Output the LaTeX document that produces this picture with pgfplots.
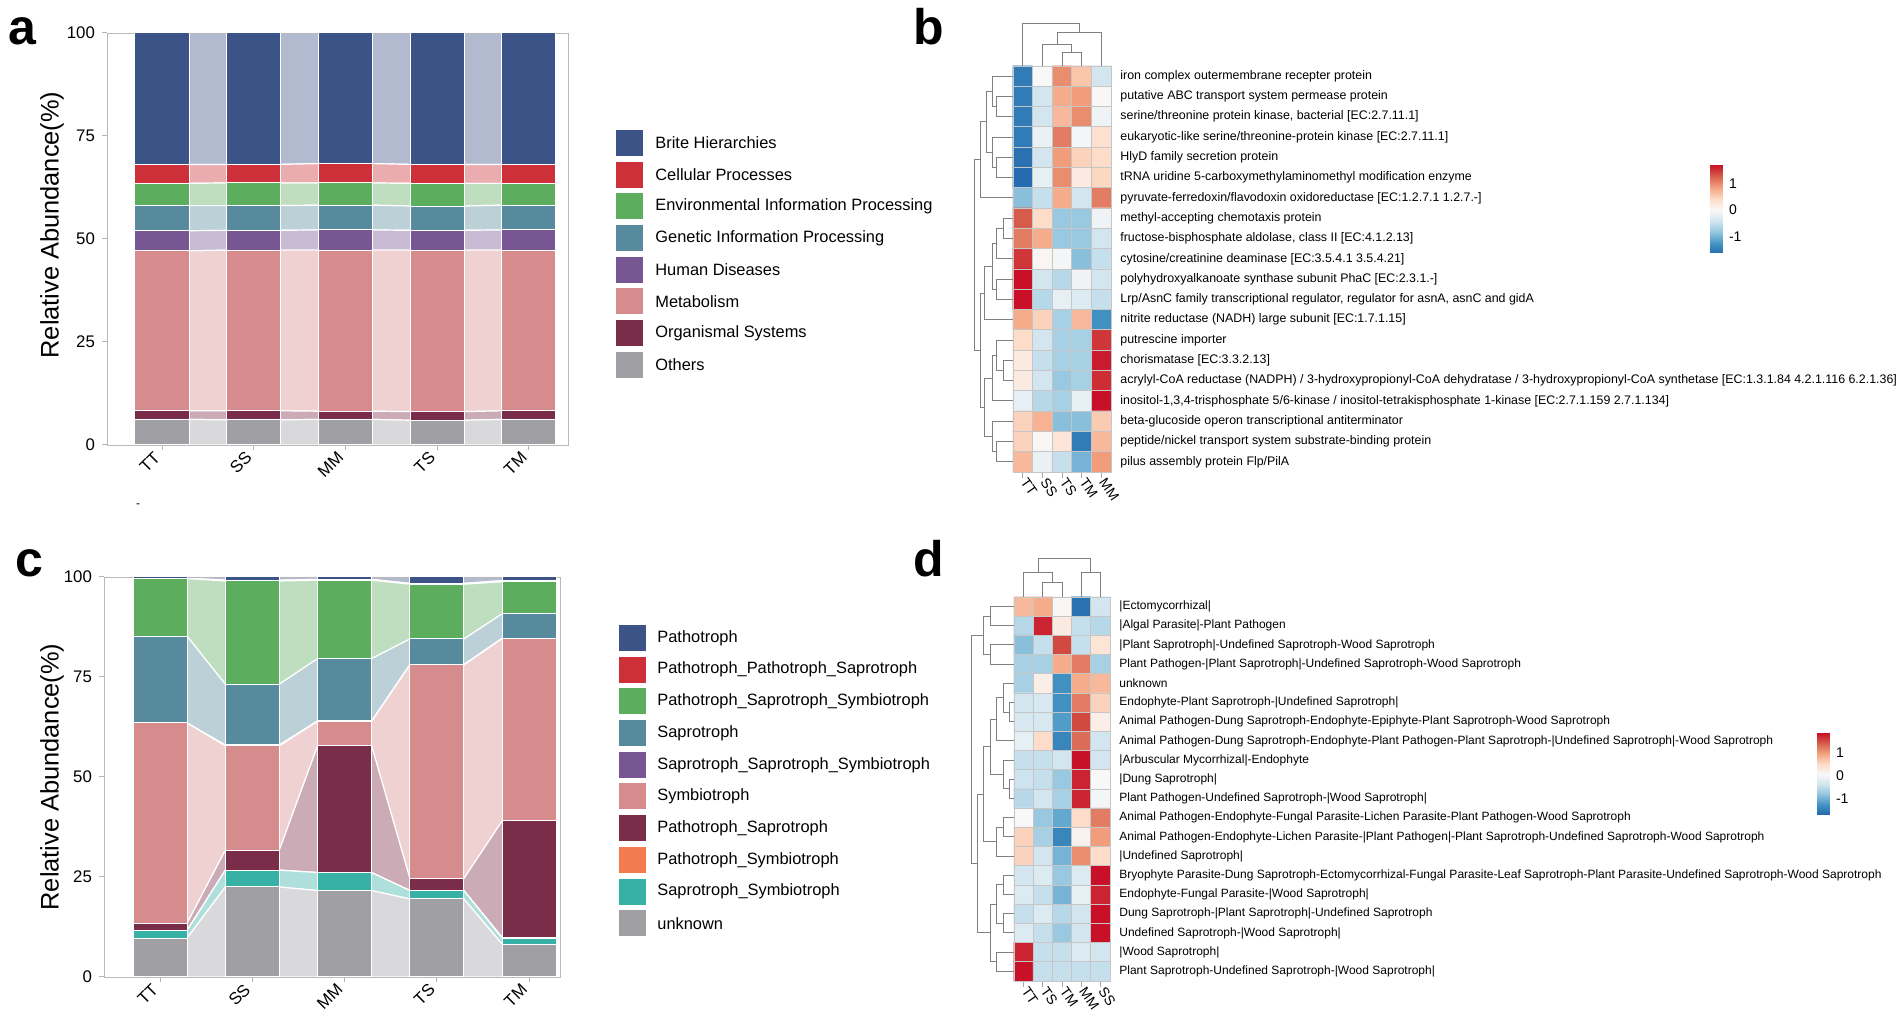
\documentclass[border=0pt]{standalone}
\usepackage{fontspec}
\setmainfont{Liberation Sans}
\usepackage{pgfplots}
\usepackage{pgfplotstable}
\pgfplotsset{compat=1.18}

\definecolor{cBri}{RGB}{59,83,135}
\definecolor{cCel}{RGB}{206,48,58}
\definecolor{cEnv}{RGB}{93,173,95}
\definecolor{cGen}{RGB}{87,138,156}
\definecolor{cHum}{RGB}{120,86,147}
\definecolor{cMet}{RGB}{214,140,140}
\definecolor{cOrg}{RGB}{122,45,72}
\definecolor{cOth}{RGB}{160,160,164}
\definecolor{cOra}{RGB}{244,123,77}
\definecolor{cTur}{RGB}{55,176,165}

\pgfplotsset{colormap={rdbu}{rgb255=(33,102,172) rgb255=(67,147,195) rgb255=(146,197,222) rgb255=(209,229,240) rgb255=(248,248,248) rgb255=(253,219,199) rgb255=(244,165,130) rgb255=(214,96,77) rgb255=(200,16,40)}}

\newcommand\tickfont{\fontsize{8.4}{10}\selectfont}
\newcommand\legfont{\fontsize{8.2}{10}\selectfont}
\newcommand\rowfont{\fontsize{6}{7}\selectfont}
\newcommand\rowfontb{\fontsize{6.2}{7}\selectfont}
\newcommand\colfont{\fontsize{7}{8}\selectfont}
\newcommand\labfont{\fontsize{12.7}{14}\selectfont}
\newcommand\panelfont{\fontsize{25}{28}\selectfont\bfseries}

\tikzset{dendro/.style={draw=black!50, line width=0.5pt}}
% left dendrogram: merge height, child1 height, child1 pos, child2 height, child2 pos
\newcommand{\dL}[5]{\draw[dendro] (axis cs:#2,#3) -- (axis cs:#1,#3) -- (axis cs:#1,#5) -- (axis cs:#4,#5);}
% top dendrogram
\newcommand{\dT}[5]{\draw[dendro] (axis cs:#3,#2) -- (axis cs:#3,#1) -- (axis cs:#5,#1) -- (axis cs:#5,#4);}

\pgfplotsset{
  areaax/.style={scale only axis, anchor=north west, hide axis, stack plots=y,
    ymin=0, ymax=100, enlargelimits=false,
    every axis plot/.append style={draw=white, line width=0.6pt}},
  barax/.style={scale only axis, anchor=north west, ybar stacked,
    ymin=0, ymax=100, enlargelimits=false,
    xtick={0,...,4}, ytick={0,25,50,75,100},
    tick align=outside, tick pos=left, major tick length=2.5pt,
    axis line style={gray!55}, tick style={gray!60, line width=0.5pt},
    x tick label style={rotate=45, anchor=east, font=\tickfont},
    y tick label style={font=\tickfont},
    /pgf/number format/assume math mode=true,
    every axis plot/.append style={draw=white, line width=0.5pt}},
  heatax/.style={scale only axis, anchor=north west, enlargelimits=false, clip=false,
    xmin=-0.5, xmax=4.5, ymin=-0.5, ymax=19.5, y dir=reverse,
    axis line style={gray!45, line width=0.4pt},
    xtick={0,...,4}, xtick pos=left, tick align=outside, major tick length=3pt,
    x tick style={gray!70, line width=0.4pt},
    x tick label style={rotate=-55, anchor=west, font=\colfont, inner sep=1pt},
    ytick={0,...,19}, yticklabel pos=right, y tick style={draw=none},
    y tick label style={anchor=west, font=\rowfont, inner sep=1.5pt},
    minor xtick={-0.5,0.5,...,4.5}, minor ytick={-0.5,0.5,...,19.5},
    grid=minor, minor grid style={gray!45, line width=0.4pt}, minor tick length=0pt,
    axis on top, colormap name=rdbu, point meta min=-1.7, point meta max=1.7},
  cbax/.style={scale only axis, anchor=north west, enlargelimits=false,
    xmin=0, xmax=1, axis line style={draw=none}, xtick=\empty,
    ytick={-1,0,1}, yticklabels={-1,0,1}, yticklabel pos=right,
    tick align=inside, major tick length=2pt, y tick style={white, line width=0.6pt},
    y tick label style={font=\colfont}, colormap name=rdbu}
}

% panel a: KEGG level 1, bottom to top
\pgfplotstableread{
x Oth Org Met Hum Gen Env Cel Bri
0 6.2 2.1 38.8 4.9 6.1 5.4 4.6 31.9
1 6.1 2.2 39.0 4.8 6.0 5.5 4.5 31.9
2 6.2 2.0 39.1 4.9 6.0 5.4 4.7 31.7
3 6.0 2.1 39.2 4.8 5.9 5.5 4.6 31.9
4 6.2 2.1 39.0 4.9 6.0 5.3 4.6 31.9
}\abar
\pgfplotstableread{
x Oth Org Met Hum Gen Env Cel Bri
-0.295 6.2 2.1 38.8 4.9 6.1 5.4 4.6 31.9
0.295 6.2 2.1 38.8 4.9 6.1 5.4 4.6 31.9
0.705 6.1 2.2 39.0 4.8 6.0 5.5 4.5 31.9
1.295 6.1 2.2 39.0 4.8 6.0 5.5 4.5 31.9
1.705 6.2 2.0 39.1 4.9 6.0 5.4 4.7 31.7
2.295 6.2 2.0 39.1 4.9 6.0 5.4 4.7 31.7
2.705 6.0 2.1 39.2 4.8 5.9 5.5 4.6 31.9
3.295 6.0 2.1 39.2 4.8 5.9 5.5 4.6 31.9
3.705 6.2 2.1 39.0 4.9 6.0 5.3 4.6 31.9
4.295 6.2 2.1 39.0 4.9 6.0 5.3 4.6 31.9
}\aedge

% panel c: FUNGuild trophic modes, bottom to top
\pgfplotstableread{
x Unk SaSy PaSy PaSa Sym SSS Sap PSS PPS Pat
0 9.7 1.9 0.0 1.8 50.1 0.0 21.7 14.4 0.1 0.3
1 22.5 4.2 0.0 5.0 26.1 0.2 15.2 25.8 0.2 0.8
2 21.6 4.5 0.0 31.7 6.1 0.1 15.6 19.6 0.2 0.6
3 19.5 2.1 0.0 3.0 53.4 0.1 6.4 13.7 0.2 1.6
4 8.2 1.5 0.2 29.1 45.6 0.1 6.1 8.0 0.3 0.9
}\cbar
\pgfplotstableread{
x Unk SaSy PaSy PaSa Sym SSS Sap PSS PPS Pat
-0.2925 9.7 1.9 0.0 1.8 50.1 0.0 21.7 14.4 0.1 0.3
0.2925 9.7 1.9 0.0 1.8 50.1 0.0 21.7 14.4 0.1 0.3
0.7075 22.5 4.2 0.0 5.0 26.1 0.2 15.2 25.8 0.2 0.8
1.2925 22.5 4.2 0.0 5.0 26.1 0.2 15.2 25.8 0.2 0.8
1.7075 21.6 4.5 0.0 31.7 6.1 0.1 15.6 19.6 0.2 0.6
2.2925 21.6 4.5 0.0 31.7 6.1 0.1 15.6 19.6 0.2 0.6
2.7075 19.5 2.1 0.0 3.0 53.4 0.1 6.4 13.7 0.2 1.6
3.2925 19.5 2.1 0.0 3.0 53.4 0.1 6.4 13.7 0.2 1.6
3.7075 8.2 1.5 0.2 29.1 45.6 0.1 6.1 8.0 0.3 0.9
4.2925 8.2 1.5 0.2 29.1 45.6 0.1 6.1 8.0 0.3 0.9
}\cedge

\begin{document}
\begin{tikzpicture}
\begin{scope}[x=0.5pt, y=-0.5pt, yshift=510.5pt]
  \useasboundingbox (0,0) rectangle (1902,1021);
  \fill[white] (0,0) rectangle (1902,1021);
\end{scope}

% ---------------- panel a ----------------
\begin{axis}[areaax, at={(53.5pt,494pt)}, width=230.5pt, height=206pt, xmin=-0.6, xmax=4.427]
  \addplot[fill=cOth!40] table[x=x,y=Oth]{\aedge} \closedcycle;
  \addplot[fill=cOrg!40] table[x=x,y=Org]{\aedge} \closedcycle;
  \addplot[fill=cMet!40] table[x=x,y=Met]{\aedge} \closedcycle;
  \addplot[fill=cHum!40] table[x=x,y=Hum]{\aedge} \closedcycle;
  \addplot[fill=cGen!40] table[x=x,y=Gen]{\aedge} \closedcycle;
  \addplot[fill=cEnv!40] table[x=x,y=Env]{\aedge} \closedcycle;
  \addplot[fill=cCel!40] table[x=x,y=Cel]{\aedge} \closedcycle;
  \addplot[fill=cBri!40] table[x=x,y=Bri]{\aedge} \closedcycle;
\end{axis}
\begin{axis}[barax, at={(53.5pt,494pt)}, width=230.5pt, height=206pt, xmin=-0.6, xmax=4.427,
    bar width=0.59, xticklabels={TT,SS,MM,TS,TM}]
  \addplot[fill=cOth] table[x=x,y=Oth]{\abar};
  \addplot[fill=cOrg] table[x=x,y=Org]{\abar};
  \addplot[fill=cMet] table[x=x,y=Met]{\abar};
  \addplot[fill=cHum] table[x=x,y=Hum]{\abar};
  \addplot[fill=cGen] table[x=x,y=Gen]{\abar};
  \addplot[fill=cEnv] table[x=x,y=Env]{\abar};
  \addplot[fill=cCel] table[x=x,y=Cel]{\abar};
  \addplot[fill=cBri] table[x=x,y=Bri]{\abar};
\end{axis}

% ---------------- panel c ----------------
\begin{axis}[areaax, at={(52pt,222pt)}, width=228pt, height=200pt, xmin=-0.607, xmax=4.334]
  \addplot[fill=cOth!40] table[x=x,y=Unk]{\cedge} \closedcycle;
  \addplot[fill=cTur!40] table[x=x,y=SaSy]{\cedge} \closedcycle;
  \addplot[fill=cOra!40] table[x=x,y=PaSy]{\cedge} \closedcycle;
  \addplot[fill=cOrg!40] table[x=x,y=PaSa]{\cedge} \closedcycle;
  \addplot[fill=cMet!40] table[x=x,y=Sym]{\cedge} \closedcycle;
  \addplot[fill=cHum!40] table[x=x,y=SSS]{\cedge} \closedcycle;
  \addplot[fill=cGen!40] table[x=x,y=Sap]{\cedge} \closedcycle;
  \addplot[fill=cEnv!40] table[x=x,y=PSS]{\cedge} \closedcycle;
  \addplot[fill=cCel!40] table[x=x,y=PPS]{\cedge} \closedcycle;
  \addplot[fill=cBri!40] table[x=x,y=Pat]{\cedge} \closedcycle;
\end{axis}
\begin{axis}[barax, at={(52pt,222pt)}, width=228pt, height=200pt, xmin=-0.607, xmax=4.334,
    bar width=0.585, xticklabels={TT,SS,MM,TS,TM}]
  \addplot[fill=cOth] table[x=x,y=Unk]{\cbar};
  \addplot[fill=cTur] table[x=x,y=SaSy]{\cbar};
  \addplot[fill=cOra] table[x=x,y=PaSy]{\cbar};
  \addplot[fill=cOrg] table[x=x,y=PaSa]{\cbar};
  \addplot[fill=cMet] table[x=x,y=Sym]{\cbar};
  \addplot[fill=cHum] table[x=x,y=SSS]{\cbar};
  \addplot[fill=cGen] table[x=x,y=Sap]{\cbar};
  \addplot[fill=cEnv] table[x=x,y=PSS]{\cbar};
  \addplot[fill=cCel] table[x=x,y=PPS]{\cbar};
  \addplot[fill=cBri] table[x=x,y=Pat]{\cbar};
\end{axis}

% ---------------- panel b: heatmap ----------------
\begin{axis}[heatax, at={(506.5pt,477.5pt)}, width=49pt, height=203pt,
    y tick label style={font=\rowfontb},
    xticklabels={TT,SS,TS,TM,MM},
    yticklabels={
      {iron complex outermembrane recepter protein},
      {putative ABC transport system permease protein},
      {serine/threonine protein kinase, bacterial [EC:2.7.11.1]},
      {eukaryotic-like serine/threonine-protein kinase [EC:2.7.11.1]},
      {HlyD family secretion protein},
      {tRNA uridine 5-carboxymethylaminomethyl modification enzyme},
      {pyruvate-ferredoxin/flavodoxin oxidoreductase [EC:1.2.7.1 1.2.7.-]},
      {methyl-accepting chemotaxis protein},
      {fructose-bisphosphate aldolase, class II [EC:4.1.2.13]},
      {cytosine/creatinine deaminase [EC:3.5.4.1 3.5.4.21]},
      {polyhydroxyalkanoate synthase subunit PhaC [EC:2.3.1.-]},
      {Lrp/AsnC family transcriptional regulator, regulator for asnA, asnC and gidA},
      {nitrite reductase (NADH) large subunit [EC:1.7.1.15]},
      {putrescine importer},
      {chorismatase [EC:3.3.2.13]},
      {acrylyl-CoA reductase (NADPH) / 3-hydroxypropionyl-CoA dehydratase / 3-hydroxypropionyl-CoA synthetase [EC:1.3.1.84 4.2.1.116 6.2.1.36]},
      {inositol-1,3,4-trisphosphate 5/6-kinase / inositol-tetrakisphosphate 1-kinase [EC:2.7.1.159 2.7.1.134]},
      {beta-glucoside operon transcriptional antiterminator},
      {peptide/nickel transport system substrate-binding protein},
      {pilus assembly protein Flp/PilA}}]
  \addplot[matrix plot*, mesh/cols=5, point meta=explicit] coordinates {
    (0,0)[-1.5] (1,0)[0.0] (2,0)[1.0] (3,0)[0.6] (4,0)[-0.4]
    (0,1)[-1.5] (1,1)[-0.4] (2,1)[0.8] (3,1)[0.9] (4,1)[0.02]
    (0,2)[-1.5] (1,2)[-0.4] (2,2)[0.7] (3,2)[1.0] (4,2)[-0.1]
    (0,3)[-1.5] (1,3)[-0.15] (2,3)[1.1] (3,3)[-0.05] (4,3)[0.35]
    (0,4)[-1.6] (1,4)[-0.4] (2,4)[0.9] (3,4)[0.5] (4,4)[0.4]
    (0,5)[-1.65] (1,5)[-0.2] (2,5)[1.0] (3,5)[0.2] (4,5)[0.45]
    (0,6)[-0.9] (1,6)[-0.5] (2,6)[0.8] (3,6)[-0.4] (4,6)[1.1]
    (0,7)[1.3] (1,7)[0.4] (2,7)[-0.8] (3,7)[-0.8] (4,7)[-0.1]
    (0,8)[1.1] (1,8)[0.8] (2,8)[-0.8] (3,8)[-0.8] (4,8)[-0.4]
    (0,9)[1.5] (1,9)[0.05] (2,9)[-0.05] (3,9)[-0.9] (4,9)[-0.5]
    (0,10)[1.7] (1,10)[-0.4] (2,10)[-0.6] (3,10)[-0.1] (4,10)[-0.4]
    (0,11)[1.7] (1,11)[-0.6] (2,11)[-0.2] (3,11)[-0.3] (4,11)[-0.5]
    (0,12)[0.8] (1,12)[0.5] (2,12)[-0.7] (3,12)[0.7] (4,12)[-1.3]
    (0,13)[0.4] (1,13)[-0.4] (2,13)[-0.7] (3,13)[-0.7] (4,13)[1.5]
    (0,14)[0.2] (1,14)[-0.5] (2,14)[-0.7] (3,14)[-0.7] (4,14)[1.65]
    (0,15)[0.2] (1,15)[-0.4] (2,15)[-0.8] (3,15)[-0.7] (4,15)[1.55]
    (0,16)[-0.2] (1,16)[-0.6] (2,16)[-0.7] (3,16)[-0.2] (4,16)[1.7]
    (0,17)[0.5] (1,17)[0.75] (2,17)[-0.9] (3,17)[-0.9] (4,17)[0.55]
    (0,18)[0.5] (1,18)[0.05] (2,18)[0.3] (3,18)[-1.5] (4,18)[0.7]
    (0,19)[0.7] (1,19)[-0.15] (2,19)[-0.5] (3,19)[-1.0] (4,19)[0.9]
  };
  % row dendrogram
  \dL{-1.32}{-0.5}{1}{-0.5}{2}
  \dL{-1.57}{-0.5}{0}{-1.32}{1.5}
  \dL{-1.32}{-0.5}{4}{-0.5}{5}
  \dL{-1.57}{-0.5}{3}{-1.32}{4.5}
  \dL{-1.83}{-1.57}{0.75}{-1.57}{3.75}
  \dL{-2.18}{-1.83}{2.25}{-0.5}{6}
  \dL{-1.01}{-0.5}{7}{-0.5}{8}
  \dL{-1.32}{-1.01}{7.5}{-0.5}{9}
  \dL{-1.32}{-0.5}{10}{-0.5}{11}
  \dL{-1.57}{-1.32}{8.25}{-1.32}{10.5}
  \dL{-1.93}{-1.57}{9.375}{-0.5}{12}
  \dL{-1.01}{-0.5}{14}{-0.5}{15}
  \dL{-1.32}{-0.5}{13}{-1.01}{14.5}
  \dL{-1.57}{-1.32}{13.75}{-0.5}{16}
  \dL{-1.32}{-0.5}{18}{-0.5}{19}
  \dL{-1.57}{-0.5}{17}{-1.32}{18.5}
  \dL{-1.93}{-1.57}{14.875}{-1.57}{17.75}
  \dL{-2.18}{-1.93}{10.6875}{-1.93}{16.3125}
  \dL{-2.49}{-2.18}{4.125}{-2.18}{13.5}
  % column dendrogram
  \dT{-1.14}{-0.5}{2}{-0.5}{3}
  \dT{-1.58}{-0.5}{1}{-1.14}{2.5}
  \dT{-2.13}{-1.58}{1.75}{-0.5}{4}
  \dT{-2.57}{-0.5}{0}{-2.13}{2.875}
\end{axis}
\begin{axis}[cbax, at={(855pt,428pt)}, width=6pt, height=44pt, ymin=-1.62, ymax=1.7,
    point meta min=-1.7, point meta max=1.7]
  \addplot[surf, shader=interp, mesh/cols=2, point meta=y] coordinates {
    (0,-1.62) (1,-1.62)
    (0,-0.8) (1,-0.8)
    (0,0) (1,0)
    (0,0.8) (1,0.8)
    (0,1.7) (1,1.7)
  };
\end{axis}

% ---------------- panel d: heatmap ----------------
\begin{axis}[heatax, at={(507pt,212pt)}, width=48pt, height=192pt,
    xticklabels={TT,TS,TM,MM,SS},
    yticklabels={
      {|Ectomycorrhizal|},
      {|Algal Parasite|-Plant Pathogen},
      {|Plant Saprotroph|-Undefined Saprotroph-Wood Saprotroph},
      {Plant Pathogen-|Plant Saprotroph|-Undefined Saprotroph-Wood Saprotroph},
      {unknown},
      {Endophyte-Plant Saprotroph-|Undefined Saprotroph|},
      {Animal Pathogen-Dung Saprotroph-Endophyte-Epiphyte-Plant Saprotroph-Wood Saprotroph},
      {Animal Pathogen-Dung Saprotroph-Endophyte-Plant Pathogen-Plant Saprotroph-|Undefined Saprotroph|-Wood Saprotroph},
      {|Arbuscular Mycorrhizal|-Endophyte},
      {|Dung Saprotroph|},
      {Plant Pathogen-Undefined Saprotroph-|Wood Saprotroph|},
      {Animal Pathogen-Endophyte-Fungal Parasite-Lichen Parasite-Plant Pathogen-Wood Saprotroph},
      {Animal Pathogen-Endophyte-Lichen Parasite-|Plant Pathogen|-Plant Saprotroph-Undefined Saprotroph-Wood Saprotroph},
      {|Undefined Saprotroph|},
      {Bryophyte Parasite-Dung Saprotroph-Ectomycorrhizal-Fungal Parasite-Leaf Saprotroph-Plant Parasite-Undefined Saprotroph-Wood Saprotroph},
      {Endophyte-Fungal Parasite-|Wood Saprotroph|},
      {Dung Saprotroph-|Plant Saprotroph|-Undefined Saprotroph},
      {Undefined Saprotroph-|Wood Saprotroph|},
      {|Wood Saprotroph|},
      {Plant Saprotroph-Undefined Saprotroph-|Wood Saprotroph|}}]
  \addplot[matrix plot*, mesh/cols=5, point meta=explicit] coordinates {
    (0,0)[0.7] (1,0)[0.8] (2,0)[0.05] (3,0)[-1.6] (4,0)[-0.4]
    (0,1)[-0.6] (1,1)[1.6] (2,1)[0.2] (3,1)[-0.5] (4,1)[-0.6]
    (0,2)[-0.9] (1,2)[-0.5] (2,2)[1.4] (3,2)[-0.5] (4,2)[0.3]
    (0,3)[-0.7] (1,3)[-0.7] (2,3)[0.8] (3,3)[1.1] (4,3)[-0.7]
    (0,4)[-0.7] (1,4)[0.15] (2,4)[-1.3] (3,4)[0.8] (4,4)[0.7]
    (0,5)[-0.4] (1,5)[-0.35] (2,5)[-1.3] (3,5)[1.1] (4,5)[0.5]
    (0,6)[-0.35] (1,6)[-0.35] (2,6)[-1.2] (3,6)[1.4] (4,6)[0.15]
    (0,7)[-0.2] (1,7)[0.4] (2,7)[-1.4] (3,7)[1.2] (4,7)[-0.4]
    (0,8)[-0.5] (1,8)[-0.5] (2,8)[-0.4] (3,8)[1.7] (4,8)[-0.4]
    (0,9)[-0.45] (1,9)[-0.5] (2,9)[-0.8] (3,9)[1.6] (4,9)[0.0]
    (0,10)[-0.6] (1,10)[-0.4] (2,10)[-0.7] (3,10)[1.6] (4,10)[-0.05]
    (0,11)[0.0] (1,11)[-0.8] (2,11)[-1.1] (3,11)[0.4] (4,11)[1.1]
    (0,12)[0.5] (1,12)[-0.7] (2,12)[-1.4] (3,12)[0.1] (4,12)[0.9]
    (0,13)[0.5] (1,13)[-0.4] (2,13)[-1.0] (3,13)[1.0] (4,13)[0.4]
    (0,14)[-0.4] (1,14)[-0.3] (2,14)[-0.8] (3,14)[-0.3] (4,14)[1.7]
    (0,15)[-0.3] (1,15)[-0.5] (2,15)[-1.0] (3,15)[-0.2] (4,15)[1.6]
    (0,16)[-0.5] (1,16)[-0.3] (2,16)[-0.6] (3,16)[-0.4] (4,16)[1.7]
    (0,17)[-0.3] (1,17)[-0.5] (2,17)[-0.8] (3,17)[-0.4] (4,17)[1.7]
    (0,18)[1.6] (1,18)[-0.5] (2,18)[-0.5] (3,18)[-0.3] (4,18)[-0.4]
    (0,19)[1.7] (1,19)[-0.5] (2,19)[-0.5] (3,19)[-0.5] (4,19)[-0.5]
  };
  % row dendrogram
  \dL{-1.75}{-0.5}{0}{-0.5}{1}
  \dL{-1.75}{-0.5}{2}{-0.5}{3}
  \dL{-2.11}{-1.75}{0.5}{-1.75}{2.5}
  \dL{-0.71}{-0.5}{5}{-0.5}{6}
  \dL{-1.07}{-0.5}{4}{-0.71}{5.5}
  \dL{-1.39}{-1.07}{4.75}{-0.5}{7}
  \dL{-0.71}{-0.5}{9}{-0.5}{10}
  \dL{-1.07}{-0.5}{8}{-0.71}{9.5}
  \dL{-1.75}{-1.39}{5.875}{-1.07}{8.75}
  \dL{-1.07}{-0.5}{11}{-0.5}{12}
  \dL{-1.39}{-1.07}{11.5}{-0.5}{13}
  \dL{-2.11}{-1.75}{7.3125}{-1.39}{12.25}
  \dL{-1.07}{-0.5}{14}{-0.5}{15}
  \dL{-1.07}{-0.5}{16}{-0.5}{17}
  \dL{-1.39}{-1.07}{14.5}{-1.07}{16.5}
  \dL{-1.39}{-0.5}{18}{-0.5}{19}
  \dL{-1.75}{-1.39}{15.5}{-1.39}{18.5}
  \dL{-2.38}{-2.11}{9.78125}{-1.75}{17}
  \dL{-2.69}{-2.11}{1.5}{-2.38}{13.390625}
  % column dendrogram
  \dT{-1.23}{-0.5}{1}{-0.5}{2}
  \dT{-1.80}{-0.5}{0}{-1.23}{1.5}
  \dT{-1.80}{-0.5}{3}{-0.5}{4}
  \dT{-2.48}{-1.80}{0.75}{-1.80}{3.5}
\end{axis}
\begin{axis}[cbax, at={(908.5pt,144pt)}, width=6pt, height=41pt, ymin=-1.7, ymax=1.87,
    point meta min=-1.7, point meta max=1.87]
  \addplot[surf, shader=interp, mesh/cols=2, point meta=y] coordinates {
    (0,-1.7) (1,-1.7)
    (0,-0.8) (1,-0.8)
    (0,0) (1,0)
    (0,0.8) (1,0.8)
    (0,1.87) (1,1.87)
  };
\end{axis}

% ---------------- text, legends ----------------
\begin{scope}[x=0.5pt, y=-0.5pt, yshift=510.5pt]
  \node[anchor=base west, font=\panelfont, inner sep=0pt] at (8,45) {a};
  \node[anchor=base west, font=\panelfont, inner sep=0pt] at (913,45) {b};
  \node[anchor=base west, font=\panelfont, inner sep=0pt] at (15,577) {c};
  \node[anchor=base west, font=\panelfont, inner sep=0pt] at (913,577) {d};
  \node[font=\fontsize{6}{7}\selectfont] at (138,506) {-};
  \node[rotate=90, font=\labfont] at (52,225) {Relative Abundance(\%)};
  \node[rotate=90, font=\labfont] at (52,777) {Relative Abundance(\%)};
  \foreach \c/\t [count=\i from 0] in {cBri/Brite Hierarchies, cCel/Cellular Processes,
      cEnv/Environmental Information Processing, cGen/Genetic Information Processing,
      cHum/Human Diseases, cMet/Metabolism, cOrg/Organismal Systems, cOth/Others} {
    \fill[\c] (616,{143+31.7*\i-13}) rectangle ++(27,26);
    \node[anchor=west, font=\legfont, inner sep=0pt] at (655,{143+31.7*\i}) {\t};
  }
  \foreach \c/\t [count=\i from 0] in {cBri/Pathotroph, cCel/Pathotroph\_Pathotroph\_Saprotroph,
      cEnv/Pathotroph\_Saprotroph\_Symbiotroph, cGen/Saprotroph,
      cHum/Saprotroph\_Saprotroph\_Symbiotroph, cMet/Symbiotroph,
      cOrg/Pathotroph\_Saprotroph, cOra/Pathotroph\_Symbiotroph,
      cTur/Saprotroph\_Symbiotroph, cOth/unknown} {
    \fill[\c] (619,{638+31.7*\i-13}) rectangle ++(27,26);
    \node[anchor=west, font=\legfont, inner sep=0pt] at (657,{638+31.7*\i}) {\t};
  }
\end{scope}
\end{tikzpicture}
\end{document}
